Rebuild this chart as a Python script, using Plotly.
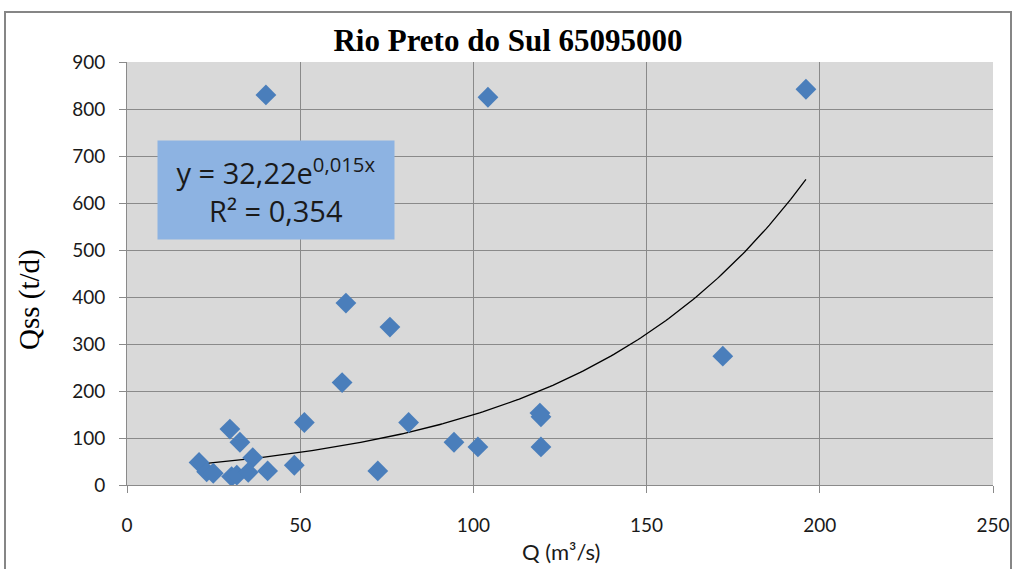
import numpy as np
import plotly.graph_objects as go

# Data (Q in m3/s, Qss in t/d)
q = [40.1, 104.2, 196.0, 63.2, 75.9, 62.1, 172.0, 51.2, 81.3, 119.2, 119.5, 119.5,
     94.4, 101.3, 72.4, 48.3, 29.7, 32.6, 20.8, 36.3, 23.0, 24.9, 30.2, 31.7, 35.0, 40.6]
qss = [830, 825, 842, 387, 336, 218, 274, 133, 133, 153, 145, 81,
       91, 81, 30, 42, 119, 91, 48, 58, 28, 25, 18, 21, 27, 30]

# Exponential trendline parameters
trend_a = 32.22
trend_b = 0.01533
trend_label = "y = 32,22e<sup>0,015x</sup><br>R² = 0,354"

x_ticks = [0, 50, 100, 150, 200, 250]
y_ticks = [0, 100, 200, 300, 400, 500, 600, 700, 800, 900]

W, H = 1016, 569
L, R, T, B = 127, 23, 62, 84
pw, ph = W - L - R, H - T - B

xt = np.linspace(min(q), max(q), 200)
yt = trend_a * np.exp(trend_b * xt)

SANS = "Lato, Open Sans, sans-serif"
BOX = "Open Sans, Lato, sans-serif"
SERIF = "Liberation Serif"

fig = go.Figure()
fig.add_trace(go.Scatter(x=xt, y=yt, mode="lines",
                         line=dict(color="black", width=1.3), showlegend=False, hoverinfo="skip"))
fig.add_trace(go.Scatter(x=q, y=qss, mode="markers",
                         marker=dict(symbol="diamond", size=16, color="#4A7EBB",
                                     line=dict(width=0)),
                         showlegend=False))

def px2paper_x(px):
    return (px - L) / pw

def px2paper_y(py):
    return (H - B - py) / ph

fig.add_shape(type="rect", xref="paper", yref="paper",
              x0=px2paper_x(5), x1=px2paper_x(1011), y0=px2paper_y(574), y1=px2paper_y(12),
              line=dict(color="#868686", width=2), fillcolor="rgba(0,0,0,0)", layer="below")

fig.add_annotation(xref="paper", yref="paper", x=px2paper_x(276), y=px2paper_y(190),
                   xanchor="center", yanchor="middle",
                   text=trend_label, showarrow=False, align="center",
                   bgcolor="#8DB3E2", width=234, height=96,
                   font=dict(family=BOX, size=29, color="#1a1a1a"))

# axis titles as annotations for precise placement
fig.add_annotation(xref="paper", yref="paper", x=px2paper_x(29), y=px2paper_y(300),
                   xanchor="center", yanchor="middle", textangle=-90,
                   text="Qss (t/d)", showarrow=False,
                   font=dict(family=SERIF, size=29, color="black"))
fig.add_annotation(xref="paper", yref="paper", x=px2paper_x(561), y=px2paper_y(551),
                   xanchor="center", yanchor="middle",
                   text="Q (m³/s)", showarrow=False,
                   font=dict(family=SANS, size=22, color="#1a1a1a"))

fig.update_layout(
    width=W, height=H,
    margin=dict(l=L, r=R, t=T, b=B, autoexpand=False),
    paper_bgcolor="white", plot_bgcolor="#D9D9D9",
    title=dict(text="<b>Rio Preto do Sul 65095000</b>", x=508 / W,
               xanchor="center", y=1 - 40 / H, yanchor="middle",
               font=dict(family=SERIF, size=31, color="black")),
    xaxis=dict(range=[0, 250], tickvals=x_ticks, showgrid=True, gridcolor="#8A8A8A", gridwidth=1,
               showline=True, linecolor="#8A8A8A", linewidth=1, ticks="outside", ticklen=7,
               tickcolor="#8A8A8A", zeroline=False, automargin=False,
               ticklabelstandoff=16,
               tickfont=dict(family=SANS, size=19, color="#1a1a1a")),
    yaxis=dict(range=[0, 900], tickvals=y_ticks, showgrid=True, gridcolor="#8A8A8A", gridwidth=1,
               showline=True, linecolor="#8A8A8A", linewidth=1, ticks="outside", ticklen=7,
               tickcolor="#8A8A8A", zeroline=False, automargin=False,
               ticklabelstandoff=10,
               tickfont=dict(family=SANS, size=19, color="#1a1a1a")),
)

fig.write_html("out.html")
